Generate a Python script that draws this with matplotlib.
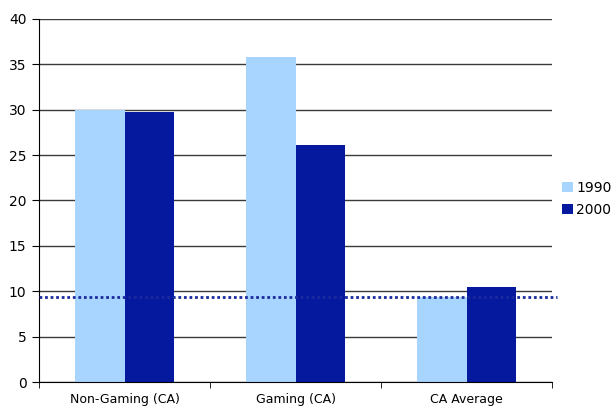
import matplotlib
matplotlib.use("Agg")
import matplotlib.pyplot as plt
import numpy as np

categories = ["Non-Gaming (CA)", "Gaming (CA)", "CA Average"]
series_names = ["1990", "2000"]
values_1990 = [30.0, 35.8, 9.4]
values_2000 = [29.7, 26.1, 10.5]
reference_line = 9.4
yticks = [0, 5, 10, 15, 20, 25, 30, 35, 40]

c1990 = "#A8D5FF"
c2000 = "#04199E"

fig = plt.figure(figsize=(6.15, 4.09), dpi=100)
ax = fig.add_axes([39/615, 27/409, 513/615, 363/409])

x = np.arange(len(categories))
w = 0.287
ax.bar(x - w/2, values_1990, w, color=c1990, label=series_names[0], zorder=2)
ax.bar(x + w/2, values_2000, w, color=c2000, label=series_names[1], zorder=2)

ax.set_xlim(-0.5, len(categories) - 0.5)
ax.set_ylim(0, 40)
ax.set_yticks(yticks)
ax.set_yticklabels([str(t) for t in yticks], fontsize=10)
ax.yaxis.grid(True, color="#3a3a3a", linewidth=1, zorder=1)
ax.set_axisbelow(True)

ax.plot([-0.5, len(categories) - 0.47], [reference_line, reference_line],
        linestyle=(0, (1, 1)), color="#1A2A9E", linewidth=2, zorder=3,
        clip_on=False)

ax.set_xticks(x)
ax.set_xticklabels(categories, fontsize=9)
ax.set_xticks([-0.5, 0.5, 1.5, 2.5], minor=True)
ax.tick_params(axis="x", which="major", length=0, pad=8)
ax.tick_params(axis="x", which="minor", length=4, color="black")
ax.tick_params(axis="y", length=5, color="black", pad=4)

for s in ["top", "right"]:
    ax.spines[s].set_visible(False)
ax.spines["left"].set_color("black")
ax.spines["bottom"].set_color("black")

ax.legend(loc="center left", bbox_to_anchor=(1.02, 0.505), frameon=False,
          fontsize=10, handlelength=0.75, handleheight=0.75, handletextpad=0.25,
          labelspacing=0.6, borderaxespad=0, borderpad=0)

fig.savefig("out.png", dpi=100)
